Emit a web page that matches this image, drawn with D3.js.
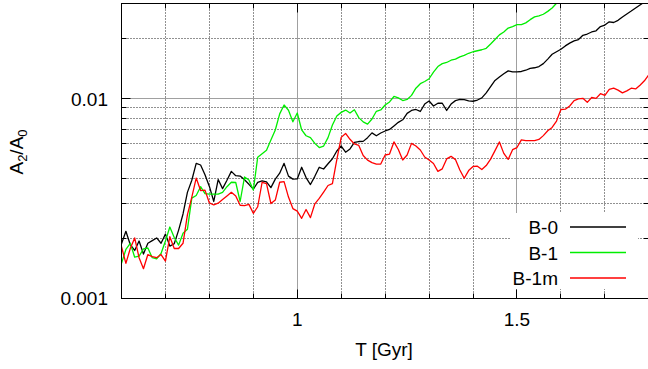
<!DOCTYPE html>
<html><head><meta charset="utf-8">
<script src="https://cdn.jsdelivr.net/npm/d3@7"></script>
<style>
html,body{margin:0;padding:0;background:#fff;}
svg{display:block;font-family:"Liberation Sans",Arial,Helvetica,sans-serif;}
</style>
</head><body>
<svg id="c" width="648" height="369"></svg>
<script>
// ---- data ----
const T = [0.60,0.61,0.62,0.63,0.64,0.65,0.66,0.67,0.68,0.69,
  0.70,0.71,0.72,0.73,0.74,0.75,0.76,0.77,0.78,0.79,
  0.80,0.81,0.82,0.83,0.84,0.85,0.86,0.87,0.88,0.89,
  0.90,0.91,0.92,0.93,0.94,0.95,0.96,0.97,0.98,0.99,
  1.00,1.01,1.02,1.03,1.04,1.05,1.06,1.07,1.08,1.09,
  1.10,1.11,1.12,1.13,1.14,1.15,1.16,1.17,1.18,1.19,
  1.20,1.21,1.22,1.23,1.24,1.25,1.26,1.27,1.28,1.29,
  1.30,1.31,1.32,1.33,1.34,1.35,1.36,1.37,1.38,1.39,
  1.40,1.41,1.42,1.43,1.44,1.45,1.46,1.47,1.48,1.49,
  1.50,1.51,1.52,1.53,1.54,1.55,1.56,1.57,1.58,1.59,
  1.60,1.61,1.62,1.63,1.64,1.65,1.66,1.67,1.68,1.69,
  1.70,1.71,1.72,1.73,1.74,1.75,1.76,1.77,1.78,1.79,1.80];

const B0 = [0.00188,0.00217,0.00186,0.00174,0.00194,0.00167,0.00189,0.00195,0.00201,0.00189,
  0.00210,0.00183,0.00188,0.00220,0.00265,0.00340,0.00391,0.00475,0.00466,0.00417,
  0.00364,0.00306,0.00394,0.00355,0.00391,0.00433,0.00412,0.00410,0.00393,0.00373,
  0.00353,0.00381,0.00388,0.00384,0.00359,0.00396,0.00424,0.00475,0.00410,0.00396,
  0.00397,0.00454,0.00403,0.00372,0.00409,0.00454,0.00445,0.00473,0.00501,0.00548,
  0.00580,0.00540,0.00561,0.00605,0.00611,0.00612,0.00639,0.00675,0.00653,0.00674,
  0.00690,0.00702,0.00731,0.00762,0.00785,0.00845,0.00874,0.00884,0.00864,0.00941,
  0.00975,0.00920,0.00950,0.00950,0.00874,0.00941,0.00979,0.00993,0.00990,0.00976,
  0.00972,0.00986,0.0101,0.0107,0.0115,0.01235,0.01285,0.01335,0.0138,0.01365,
  0.01365,0.0137,0.0139,0.0142,0.0143,0.0145,0.0150,0.0158,0.0167,0.0172,
  0.0177,0.0184,0.0190,0.0195,0.0198,0.0208,0.0211,0.0216,0.0219,0.0230,
  0.0234,0.0243,0.0241,0.0247,0.0257,0.0266,0.0275,0.0285,0.0295,0.0305,0.0316];

const B1 = [0.00150,0.00176,0.00189,0.00161,0.00163,0.00177,0.00179,0.00160,0.00158,0.00168,
  0.00194,0.00228,0.00202,0.00185,0.00212,0.00222,0.00318,0.00328,0.00363,0.00335,
  0.00333,0.00333,0.00333,0.00340,0.00363,0.00382,0.00381,0.00306,0.00406,0.00392,
  0.00349,0.00510,0.00531,0.00553,0.00622,0.00698,0.00840,0.00931,0.00876,0.00767,
  0.00849,0.00698,0.00653,0.00639,0.00598,0.00570,0.00580,0.00639,0.00739,0.00820,
  0.00855,0.00878,0.00849,0.00881,0.00805,0.00766,0.00747,0.00792,0.00866,0.00879,
  0.00931,0.00964,0.01027,0.0101,0.00980,0.00993,0.0104,0.0113,0.0119,0.0122,
  0.0126,0.0136,0.0145,0.0150,0.0152,0.0156,0.0158,0.0162,0.0165,0.0169,
  0.0172,0.0174,0.0176,0.0179,0.0188,0.0198,0.0209,0.0216,0.0226,0.0230,
  0.0235,0.0235,0.0240,0.0249,0.0257,0.0260,0.0265,0.0274,0.0285,0.0301,
  0.0315];

const B1m = [0.00182,0.00150,0.00178,0.00201,0.00160,0.00141,0.00166,0.00162,0.00160,0.00166,
  0.00154,0.00204,0.00178,0.00178,0.00189,0.00262,0.00322,0.00401,0.00347,0.00349,
  0.00301,0.00294,0.00300,0.00313,0.00326,0.00340,0.00326,0.00293,0.00292,0.00296,
  0.00267,0.00288,0.00382,0.00376,0.00299,0.00311,0.00382,0.00385,0.00322,0.00282,
  0.00274,0.00252,0.00279,0.00254,0.00298,0.00317,0.00341,0.00368,0.00376,0.00496,
  0.00641,0.00671,0.00627,0.00594,0.00584,0.00520,0.00493,0.00479,0.00471,0.00471,
  0.00523,0.00529,0.00608,0.00557,0.00494,0.00523,0.00598,0.00580,0.00554,0.00511,
  0.00494,0.00474,0.00433,0.00446,0.00500,0.00515,0.00496,0.00440,0.00400,0.00437,
  0.00458,0.00460,0.00442,0.00463,0.00499,0.00550,0.00608,0.00533,0.00497,0.00556,
  0.00570,0.00623,0.00617,0.00617,0.00617,0.00626,0.00654,0.00692,0.00719,0.00774,
  0.00884,0.00887,0.00920,0.00979,0.0100,0.01005,0.00960,0.01015,0.01005,0.0106,
  0.0104,0.01115,0.0113,0.01105,0.0107,0.01095,0.0113,0.0112,0.0117,0.0123,0.0132];

const seriesNames = ["B-0", "B-1", "B-1m"];
const seriesValues = [B0, B1, B1m];
const seriesColors = ["#000000", "#00ee00", "#ff0000"];

const xDomain = [0.6, 1.8];
const yDomain = [0.001, 0.03];
const xMajorTicks = [1, 1.5];
const xTickLabels = ["1", "1.5"];
const xMinorTicks = [0.7, 0.8, 0.9, 1.1, 1.2, 1.3, 1.4, 1.6, 1.7];
const yMajorTicks = [0.001, 0.01];
const yTickLabels = ["0.001", "0.01"];
const yMinorTicks = [0.002,0.003,0.004,0.005,0.006,0.007,0.008,0.009,0.02,0.03];

// ---- drawing ----
const svg = d3.select("#c");
const L = 121.5, R = 648.8, TOP = 3.5, BOT = 298.5;
const x = d3.scaleLinear().domain(xDomain).range([L, R]);
const y = d3.scaleLog().domain(yDomain).range([BOT, TOP]);
const px = v => Math.floor(x(v)) + 0.5;
const py = v => Math.floor(y(v)) + 0.5;

svg.append("defs").append("clipPath").attr("id", "clip")
  .append("rect").attr("x", L).attr("y", TOP).attr("width", R - L).attr("height", BOT - TOP);

const grid = svg.append("g");
// minor grid (dotted)
grid.selectAll(".mgx").data(xMinorTicks).enter().append("line")
  .attr("x1", px).attr("x2", px).attr("y1", TOP).attr("y2", BOT)
  .attr("stroke", "#222").attr("stroke-width", 1).attr("stroke-dasharray", "1,2");
grid.selectAll(".mgy").data(yMinorTicks.filter(v => v < 0.03)).enter().append("line")
  .attr("y1", py).attr("y2", py).attr("x1", L).attr("x2", R)
  .attr("stroke", "#222").attr("stroke-width", 1).attr("stroke-dasharray", "1,2");
// major grid (solid gray)
grid.selectAll(".Mgx").data(xMajorTicks).enter().append("line")
  .attr("x1", px).attr("x2", px).attr("y1", TOP).attr("y2", BOT)
  .attr("stroke", "#a0a0a0").attr("stroke-width", 1);
grid.selectAll(".Mgy").data(yMajorTicks.filter(v => v > 0.001)).enter().append("line")
  .attr("y1", py).attr("y2", py).attr("x1", L).attr("x2", R)
  .attr("stroke", "#a0a0a0").attr("stroke-width", 1);

// ticks on all four sides
const ticks = svg.append("g").attr("stroke", "#000").attr("stroke-width", 1);
const MAJ = 9, MIN = 5;
function xt(vals, len) {
  vals.forEach(v => {
    ticks.append("line").attr("x1", px(v)).attr("x2", px(v)).attr("y1", BOT).attr("y2", BOT - len);
    ticks.append("line").attr("x1", px(v)).attr("x2", px(v)).attr("y1", TOP).attr("y2", TOP + len);
  });
}
function yt(vals, len) {
  vals.forEach(v => {
    ticks.append("line").attr("y1", py(v)).attr("y2", py(v)).attr("x1", L).attr("x2", L + len);
    ticks.append("line").attr("y1", py(v)).attr("y2", py(v)).attr("x1", R).attr("x2", R - len);
  });
}
xt(xMajorTicks, MAJ); xt(xMinorTicks, MIN);
yt(yMajorTicks, MAJ); yt(yMinorTicks, MIN);

// data lines
const plot = svg.append("g").attr("clip-path", "url(#clip)");
seriesValues.forEach((vals, i) => {
  const line = d3.line().x((d, j) => x(T[j])).y(d => y(d));
  plot.append("path").datum(vals).attr("d", line)
    .attr("fill", "none").attr("stroke", seriesColors[i])
    .attr("stroke-width", 1.3).attr("stroke-linejoin", "round");
});

// border
svg.append("rect").attr("x", L).attr("y", TOP).attr("width", R - L).attr("height", BOT - TOP)
  .attr("fill", "none").attr("stroke", "#000").attr("stroke-width", 1);

// tick labels
const FS = 19;
svg.selectAll(".xl").data(xMajorTicks).enter().append("text")
  .attr("x", d => x(d)).attr("y", 326).attr("text-anchor", "middle")
  .attr("font-size", FS).attr("fill", "#000").text((d, i) => xTickLabels[i]);
svg.selectAll(".yl").data(yMajorTicks).enter().append("text")
  .attr("x", 108).attr("y", d => y(d) + 6.8).attr("text-anchor", "end")
  .attr("font-size", FS).attr("fill", "#000").text((d, i) => yTickLabels[i]);

// axis labels
svg.append("text").attr("x", 384).attr("y", 356).attr("text-anchor", "middle")
  .attr("font-size", FS).attr("fill", "#000").text("T [Gyr]");
const yl = svg.append("text").attr("transform", "translate(22.5,152) rotate(-90)")
  .attr("text-anchor", "middle").attr("font-size", FS).attr("fill", "#000");
yl.append("tspan").text("A");
yl.append("tspan").attr("font-size", 13).attr("dy", 4).text("2");
yl.append("tspan").attr("dy", -4).text("/A");
yl.append("tspan").attr("font-size", 13).attr("dy", 4).text("0");

// legend
const lg = svg.append("g");
lg.append("rect").attr("x", 511).attr("y", 213).attr("width", 127).attr("height", 76).attr("fill", "#fff");
seriesNames.forEach((n, i) => {
  const base = 234 + i * 25.5;
  lg.append("text").attr("x", 558).attr("y", base).attr("text-anchor", "end")
    .attr("font-size", FS).attr("fill", "#000").text(n);
  lg.append("line").attr("x1", 570).attr("x2", 626).attr("y1", base - 7).attr("y2", base - 7)
    .attr("stroke", seriesColors[i]).attr("stroke-width", 1.3);
});
</script>
</body></html>
